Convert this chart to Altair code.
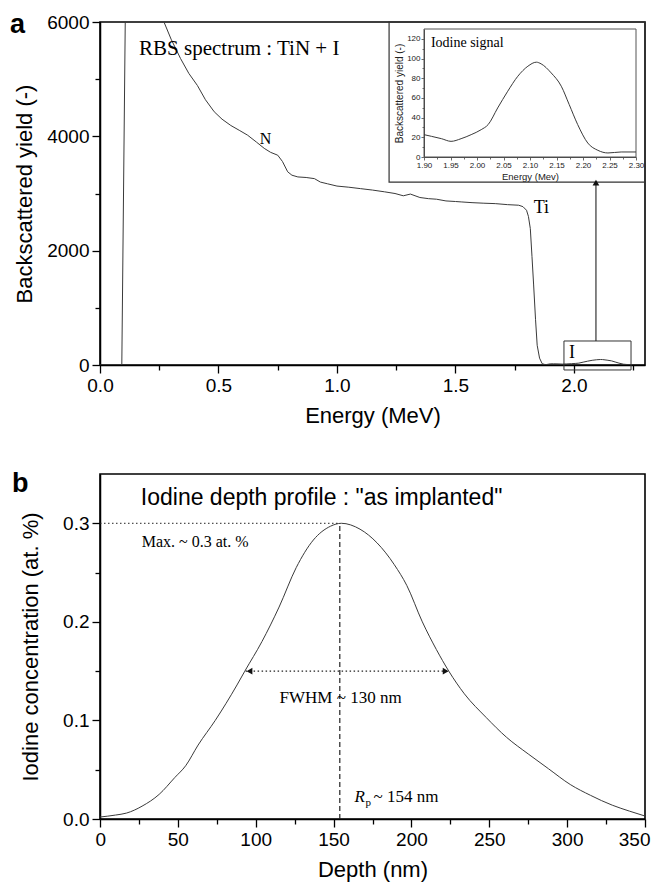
import altair as alt
import pandas as pd

# ---------------- data ----------------
# Panel a: RBS spectrum, energy (MeV) vs backscattered yield
rbs_energy = [0.000, 0.092, 0.1085, 0.160, 0.255, 0.270, 0.300, 0.340, 0.375, 0.411,
              0.445, 0.482, 0.515, 0.552, 0.590, 0.623, 0.660, 0.693, 0.720, 0.750,
              0.770, 0.792, 0.810, 0.835, 0.870, 0.905, 0.930, 0.960, 1.000, 1.050,
              1.100, 1.150, 1.200, 1.245, 1.280, 1.310, 1.350, 1.386, 1.420, 1.460,
              1.500, 1.527, 1.570, 1.620, 1.668, 1.720, 1.767, 1.785, 1.800, 1.808,
              1.816, 1.823, 1.830, 1.838, 1.845, 1.855, 1.866, 1.880, 1.900, 1.914,
              1.933, 1.951, 1.970, 1.989, 2.008, 2.021, 2.039, 2.058, 2.077, 2.096,
              2.112, 2.121, 2.140, 2.159, 2.174, 2.190, 2.209, 2.228, 2.247]
rbs_counts = [0, 0, 6800, 9000, 6350, 6000, 5700, 5360, 5100, 4890,
              4640, 4430, 4300, 4190, 4100, 4020, 3900, 3790, 3720, 3670,
              3560, 3380, 3320, 3290, 3280, 3260, 3200, 3170, 3130, 3110,
              3085, 3060, 3030, 3000, 2960, 2990, 2930, 2910, 2900, 2870,
              2860, 2852, 2840, 2830, 2823, 2805, 2795, 2770, 2707, 2600,
              2386, 1900, 1400, 800, 345, 120, 23, 5, 20, 21,
              19, 16, 19, 23, 28, 33, 50, 67, 82, 92,
              96, 95, 85, 72, 53, 33, 14, 7, 4]

# Inset: iodine signal
iod_energy = [1.900, 1.914, 1.933, 1.951, 1.970, 1.989, 2.008, 2.021, 2.039, 2.058,
              2.077, 2.096, 2.112, 2.121, 2.140, 2.159, 2.174, 2.190, 2.209, 2.228,
              2.247, 2.272, 2.300]
iod_counts = [22.7, 21.0, 18.6, 15.9, 18.6, 22.7, 27.8, 32.9, 49.8, 66.8,
              82.0, 92.2, 96.3, 94.6, 85.4, 71.9, 53.2, 32.9, 14.2, 6.8,
              4.1, 5.1, 5.1]

# Panel b: iodine depth profile
depth_nm = [0, 10, 17, 27, 38, 48, 55, 63, 74, 88, 93, 104, 115, 126, 137, 148, 155,
            167, 178, 189, 197, 207, 216, 224, 234, 248, 261, 275, 288, 302, 315,
            329, 340, 350]
conc_at = [0.002, 0.004, 0.006, 0.013, 0.025, 0.042, 0.054, 0.075, 0.100, 0.136,
           0.150, 0.180, 0.215, 0.255, 0.283, 0.297, 0.300, 0.294, 0.280, 0.258,
           0.237, 0.200, 0.172, 0.150, 0.127, 0.103, 0.083, 0.066, 0.051, 0.035,
           0.024, 0.014, 0.008, 0.003]

# axes
a_x_major = [0.0, 0.5, 1.0, 1.5, 2.0]
a_x_minor = [0.25, 0.75, 1.25, 1.75, 2.25]
a_y_major = [0, 2000, 4000, 6000]
a_y_minor = [1000, 3000, 5000]
in_x_major = [1.90, 1.95, 2.00, 2.05, 2.10, 2.15, 2.20, 2.25, 2.30]
in_x_minor = [1.925, 1.975, 2.025, 2.075, 2.125, 2.175, 2.225, 2.275]
in_y_major = [0, 20, 40, 60, 80, 100, 120]
in_y_minor = [10, 30, 50, 70, 90, 110]
b_x_major = [0, 50, 100, 150, 200, 250, 300, 350]
b_x_minor = [25, 75, 125, 175, 225, 275, 325]
b_y_major = [0.0, 0.1, 0.2, 0.3]
b_y_minor = [0.05, 0.15, 0.25]

# annotation anchors (data units)
iodine_box = {"x": 1.958, "x2": 2.241, "y": -87, "y2": 420}
inset_frame = {"x": 1.22, "x2": 2.3, "y": 3200, "y2": 6000}
arrow_a = {"x": 2.093, "y": 420, "y2": 3150, "head": 3190}
rp_depth = 154
peak_conc = 0.3
fwhm = {"x": 93.5, "x2": 224.5, "y": 0.15}

# ---------------- styling ----------------
SANS = "Liberation Sans"
SERIF = "Liberation Serif"
LINE = "#3a3a3a"
W, HA, HB = 545, 343, 345
A_X, A_Y = [0, 2.3], [0, 6000]
B_X, B_Y = [0, 350], [0, 0.35]
IN_X, IN_Y = [1.9, 2.3], [0, 130]
IN_XR, IN_YR = [324, 536], [135, 7]


def sc(domain, rng=None):
    if rng is None:
        return alt.Scale(domain=domain, nice=False, zero=False)
    return alt.Scale(domain=domain, range=rng, nice=False, zero=False)


def X(domain, axis=None, rng=None, field="x"):
    return alt.X(f"{field}:Q", scale=sc(domain, rng), axis=axis)


def Y(domain, axis=None, rng=None, field="y"):
    return alt.Y(f"{field}:Q", scale=sc(domain, rng), axis=axis)


def minor_axis(orient, values, size=5, **kw):
    return alt.Axis(orient=orient, values=values, labels=False, domain=False,
                    tickSize=size, title=None, **kw)


def text_layer(text, x, y, xd, yd, size, font=SERIF, align="left", style="normal",
               weight="normal", dx=0, dy=0, xr=None, yr=None):
    df = pd.DataFrame({"x": [x], "y": [y], "t": [text]})
    return alt.Chart(df).mark_text(align=align, baseline="alphabetic", font=font,
                                   fontSize=size, fontStyle=style, fontWeight=weight,
                                   color="black", dx=dx, dy=dy, clip=False).encode(
        x=X(xd, rng=xr), y=Y(yd, rng=yr), text="t:N")


def minor_layer(xd, yd, xvals=None, yvals=None, xaxis=None, yaxis=None, xr=None, yr=None):
    n = len(xvals) if xvals is not None else len(yvals)
    xs = xvals if xvals is not None else [xd[0]] * n
    ys = yvals if yvals is not None else [yd[0]] * n
    df = pd.DataFrame({"x": xs, "y": ys})
    return alt.Chart(df).mark_point(opacity=0).encode(
        x=X(xd, xaxis, rng=xr), y=Y(yd, yaxis, rng=yr))


# ---------------- panel a ----------------
spec_df = pd.DataFrame({"x": rbs_energy, "y": rbs_counts})
spec = alt.Chart(spec_df).mark_line(color=LINE, strokeWidth=1, clip=True).encode(
    x=X(A_X, alt.Axis(orient="bottom", values=a_x_major, format=".1f",
                      title="Energy (MeV)", tickSize=8)),
    y=Y(A_Y, alt.Axis(orient="left", values=a_y_major, format="d",
                      title="Backscattered yield (-)", tickSize=8, titlePadding=10)),
)
a_xminor = minor_layer(A_X, A_Y, xvals=a_x_minor, xaxis=minor_axis("bottom", a_x_minor))
a_yminor = minor_layer(A_X, A_Y, yvals=a_y_minor, yaxis=minor_axis("left", a_y_minor))

box = alt.Chart(pd.DataFrame([iodine_box])).mark_rect(
    filled=False, color="#333", strokeWidth=1, clip=False).encode(
    x=X(A_X), x2="x2:Q", y=Y(A_Y), y2="y2:Q")
frame = alt.Chart(pd.DataFrame([inset_frame])).mark_rect(
    filled=False, color="#333", strokeWidth=1.2).encode(
    x=X(A_X), x2="x2:Q", y=Y(A_Y), y2="y2:Q")
arrow = alt.Chart(pd.DataFrame([arrow_a])).mark_rule(color="#222", strokeWidth=1.1).encode(
    x=X(A_X), y=Y(A_Y), y2="y2:Q")
arrow_head = alt.Chart(pd.DataFrame([arrow_a])).mark_point(
    shape="triangle-up", filled=True, size=45, color="#111", opacity=1).encode(
    x=X(A_X), y=Y(A_Y, field="head"))

t_rbs = text_layer("RBS spectrum : TiN + I", 0.165, 5422, A_X, A_Y, 21)
t_n = text_layer("N", 0.699, 3865, A_X, A_Y, 16, align="center")
t_ti = text_layer("Ti", 1.83, 2658, A_X, A_Y, 18)
t_i = text_layer("I", 1.979, 122, A_X, A_Y, 18)
t_a = text_layer("a", A_X[0], A_Y[1], A_X, A_Y, 27, font=SANS, weight="bold",
                 dx=-90, dy=11)

# inset
in_df = pd.DataFrame({"x": iod_energy, "y": iod_counts})
in_ax_common = dict(labelFontSize=8, tickSize=3, labelPadding=1,
                    titlePadding=2, domainWidth=1, domainColor="#444", tickColor="#444",
                    tickWidth=0.8, labelColor="#222", titleColor="#222")
in_line = alt.Chart(in_df).mark_line(color=LINE, strokeWidth=1,
                                     interpolate="monotone").encode(
    x=X(IN_X, alt.Axis(orient="bottom", offset=-(HA - IN_YR[0]), values=in_x_major,
                       format=".2f", title="Energy (Mev)", titleFontSize=9.5,
                       **in_ax_common), rng=IN_XR),
    y=Y(IN_Y, alt.Axis(orient="left", offset=-IN_XR[0], values=in_y_major, format="d",
                       title="Backscattered yield (-)", titleFontSize=10,
                       **in_ax_common), rng=IN_YR),
)
in_xminor = minor_layer(IN_X, IN_Y, xvals=in_x_minor, xr=IN_XR, yr=IN_YR,
                        xaxis=minor_axis("bottom", in_x_minor, size=2,
                                         offset=-(HA - IN_YR[0]),
                                         tickColor="#444", tickWidth=0.8))
in_yminor = minor_layer(IN_X, IN_Y, yvals=in_y_minor, xr=IN_XR, yr=IN_YR,
                        yaxis=minor_axis("left", in_y_minor, size=2, offset=-IN_XR[0],
                                         tickColor="#444", tickWidth=0.8))
in_frame = alt.Chart(pd.DataFrame({"x": [IN_X[0]], "x2": [IN_X[1]], "y": [IN_Y[0]],
                                   "y2": [IN_Y[1]]})).mark_rect(
    filled=False, color="#555", strokeWidth=1).encode(
    x=X(IN_X, rng=IN_XR), x2="x2:Q", y=Y(IN_Y, rng=IN_YR), y2="y2:Q")
t_iod = text_layer("Iodine signal", 1.913, 112, IN_X, IN_Y, 14, xr=IN_XR, yr=IN_YR)

panel_a = alt.layer(
    spec, a_xminor, a_yminor, box, frame, arrow, arrow_head, t_rbs, t_n, t_ti, t_i, t_a,
    in_frame, in_line, in_xminor, in_yminor, t_iod
).resolve_scale(x="independent", y="independent").resolve_axis(
    x="independent", y="independent").properties(width=W, height=HA)

# ---------------- panel b ----------------
prof_df = pd.DataFrame({"x": depth_nm, "y": conc_at})
prof = alt.Chart(prof_df).mark_line(color=LINE, strokeWidth=1,
                                    interpolate="monotone").encode(
    x=X(B_X, alt.Axis(orient="bottom", values=b_x_major, format="d",
                      title="Depth (nm)", tickSize=8, labelFlush=True,
                      labelFlushOffset=5)),
    y=Y(B_Y, alt.Axis(orient="left", values=b_y_major, format=".1f",
                      title="Iodine concentration (at. %)", tickSize=8, titlePadding=20)),
)
b_xminor = minor_layer(B_X, B_Y, xvals=b_x_minor, xaxis=minor_axis("bottom", b_x_minor))
b_yminor = minor_layer(B_X, B_Y, yvals=b_y_minor, yaxis=minor_axis("left", b_y_minor))

hline = alt.Chart(pd.DataFrame({"x": [0], "x2": [rp_depth], "y": [peak_conc]})).mark_rule(
    color="#222", strokeWidth=1, strokeDash=[1.5, 2.5]).encode(
    x=X(B_X), x2="x2:Q", y=Y(B_Y))
vline = alt.Chart(pd.DataFrame({"x": [rp_depth], "y": [0], "y2": [peak_conc]})).mark_rule(
    color="#222", strokeWidth=1.2, strokeDash=[5, 3]).encode(
    x=X(B_X), y=Y(B_Y), y2="y2:Q")
fw_line = alt.Chart(pd.DataFrame([fwhm])).mark_rule(
    color="#222", strokeWidth=1.2, strokeDash=[1.5, 2.5]).encode(
    x=X(B_X), x2="x2:Q", y=Y(B_Y))
fw_left = alt.Chart(pd.DataFrame({"x": [fwhm["x"] + 2.5], "y": [fwhm["y"]]})).mark_point(
    shape="triangle-left", filled=True, size=45, color="#111", opacity=1).encode(
    x=X(B_X), y=Y(B_Y))
fw_right = alt.Chart(pd.DataFrame({"x": [fwhm["x2"] - 2.5], "y": [fwhm["y"]]})).mark_point(
    shape="triangle-right", filled=True, size=45, color="#111", opacity=1).encode(
    x=X(B_X), y=Y(B_Y))

t_title = text_layer('Iodine depth profile : "as implanted"', 26.2, 0.319, B_X, B_Y, 23,
                     font=SANS)
t_max = text_layer("Max. ~ 0.3 at. %", 26.8, 0.2756, B_X, B_Y, 16)
t_fw = text_layer("FWHM ~ 130 nm", 154.5, 0.1175, B_X, B_Y, 17, align="center")
t_r = text_layer("R", 163.5, 0.0172, B_X, B_Y, 17, style="italic")
t_p = text_layer("p", 163.5, 0.0172, B_X, B_Y, 11, dx=11, dy=4)
t_rp = text_layer("~ 154 nm", 163.5, 0.0172, B_X, B_Y, 17, dx=19)
t_b = text_layer("b", B_X[0], B_Y[1], B_X, B_Y, 27, font=SANS, weight="bold",
                 dx=-88, dy=18)

panel_b = alt.layer(
    prof, b_xminor, b_yminor, hline, vline, fw_line, fw_left, fw_right,
    t_title, t_max, t_fw, t_r, t_p, t_rp, t_b
).resolve_scale(x="independent", y="independent").resolve_axis(
    x="independent", y="independent").properties(width=W, height=HB)

chart = alt.vconcat(panel_a, panel_b, spacing=42).properties(
    padding={"left": 1, "top": 2, "right": 0, "bottom": 2}
).configure_axis(
    labelFont=SANS, titleFont=SANS, labelFontSize=19, titleFontSize=22,
    titleFontWeight="normal", labelColor="black", titleColor="black",
    domainColor="black", domainWidth=1.5, tickColor="black", tickWidth=1.3,
    grid=False, labelPadding=3, titlePadding=10, labelFlush=False
).configure_view(stroke="black", strokeWidth=1.6)

chart.save("out.html", embed_options={"renderer": "svg", "actions": False})
